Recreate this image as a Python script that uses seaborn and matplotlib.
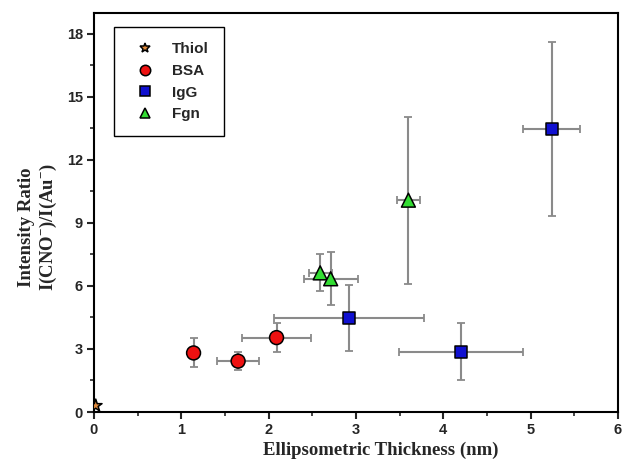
import matplotlib
matplotlib.use("Agg")
import matplotlib.pyplot as plt
import seaborn as sns
import pandas as pd

# ---- data ----
groups = ["Thiol", "BSA", "BSA", "BSA", "IgG", "IgG", "IgG", "Fgn", "Fgn", "Fgn"]
thickness = [0.02, 1.14, 1.65, 2.09, 2.92, 4.20, 5.24, 3.60, 2.59, 2.71]
thickness_err = [0.0, 0.0, 0.245, 0.39, 0.855, 0.71, 0.33, 0.13, 0.13, 0.31]
ratio = [0.3, 2.81, 2.42, 3.54, 4.47, 2.87, 13.46, 10.08, 6.62, 6.34]
ratio_err = [0.0, 0.69, 0.43, 0.68, 1.58, 1.37, 4.13, 3.97, 0.88, 1.26]

order = ["Thiol", "BSA", "IgG", "Fgn"]
colors = {"Thiol": "#e08a3c", "BSA": "#ee1111", "IgG": "#1010d0", "Fgn": "#33dd33"}
markers = {"Thiol": "*", "BSA": "o", "IgG": "s", "Fgn": "^"}
sizes = {"Thiol": 90, "BSA": 100, "IgG": 75, "Fgn": 100}

xticks = [0, 1, 2, 3, 4, 5, 6]
yticks = [0, 3, 6, 9, 12, 15, 18]

df = pd.DataFrame({"group": groups, "x": thickness, "xerr": thickness_err,
                   "y": ratio, "yerr": ratio_err})

sns.set_style("ticks")
plt.rcParams["font.family"] = ["Liberation Sans", "DejaVu Sans"]
plt.rcParams["mathtext.fontset"] = "custom"
plt.rcParams["mathtext.rm"] = "Liberation Serif:bold"
plt.rcParams["mathtext.bf"] = "Liberation Serif:bold"
plt.rcParams["mathtext.it"] = "Liberation Serif:bold"

fig = plt.figure(figsize=(6.22, 4.62), dpi=100)
ax = fig.add_axes([94 / 622, 50 / 462, 524 / 622, 399.3 / 462])

for _, r in df.iterrows():
    if r["xerr"] > 0 or r["yerr"] > 0:
        ax.errorbar(r["x"], r["y"],
                    xerr=r["xerr"] if r["xerr"] > 0 else None,
                    yerr=r["yerr"] if r["yerr"] > 0 else None,
                    fmt="none", ecolor="#8a8a8a", elinewidth=1.5,
                    capsize=3, capthick=1.3, zorder=1)

sns.scatterplot(data=df, x="x", y="y", hue="group", style="group",
                hue_order=order, style_order=order, palette=colors,
                markers=markers, size="group", sizes=sizes, size_order=order,
                edgecolor="black", linewidth=1.1, ax=ax, zorder=3, legend="full")

ax.set_xlim(0, 6)
ax.set_ylim(0, 19)
ax.set_xticks(xticks)
ax.set_yticks(yticks)
ax.set_xticks([0.5 + i for i in range(6)], minor=True)
ax.set_yticks([1.5 + 3 * i for i in range(6)], minor=True)
ax.tick_params(axis="both", which="major", direction="out", length=5, width=1.5,
               labelsize=10.5, pad=3)
ax.tick_params(axis="both", which="minor", direction="out", length=3, width=1.2)
for lab in ax.get_xticklabels() + ax.get_yticklabels():
    lab.set_fontweight("bold")
for s in ax.spines.values():
    s.set_linewidth(1.5)
    s.set_color("black")
    s.set_visible(True)

ax.set_xlabel("Ellipsometric Thickness (nm)", family="Liberation Serif",
              fontweight="bold", fontsize=13.5)
ax.set_ylabel("Intensity Ratio\nI(CNO$^{-}$)/I(Au$^{-}$)", family="Liberation Serif",
              fontweight="bold", fontsize=13.5, linespacing=1.25)
ax.xaxis.set_label_coords(0.548, -0.075)
ax.yaxis.set_label_coords(-0.066, 0.463)

handles, labels = ax.get_legend_handles_labels()
hl = [(h, l) for h, l in zip(handles, labels) if l in order]
leg = ax.legend([h for h, _ in hl], [l for _, l in hl], loc="upper left",
                bbox_to_anchor=(20 / 524, 1 - 14.3 / 399.3), borderaxespad=0,
                frameon=True, fancybox=False, edgecolor="black", framealpha=1,
                prop={"family": "Liberation Sans", "weight": "bold", "size": 11},
                handlelength=2.0, handletextpad=0.8, borderpad=1.0,
                labelspacing=0.5, markerscale=0.75)
leg.get_frame().set_linewidth(1.0)

fig.savefig("out.png", dpi=100)
